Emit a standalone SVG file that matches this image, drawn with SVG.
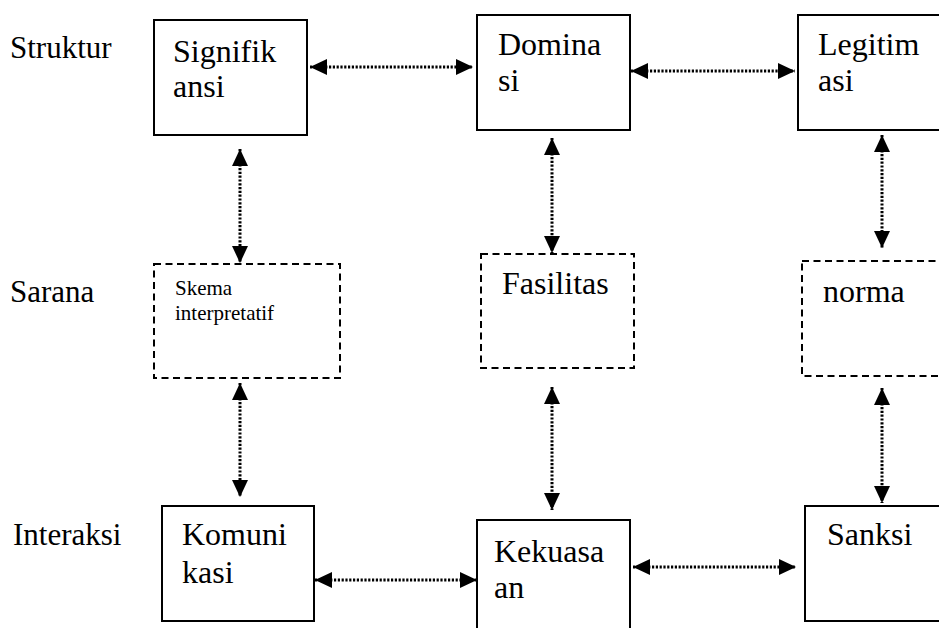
<svg xmlns="http://www.w3.org/2000/svg" width="939" height="628" viewBox="0 0 939 628">
  <style>
    text { font-family: "Liberation Serif", "DejaVu Serif", serif; fill: #000; }
    .lbl { font-size: 31px; }
    .txt { font-size: 32px; }
    .sm { font-size: 21px; }
    .solid { fill: #fff; stroke: #000; stroke-width: 2; }
    .dash { fill: #fff; stroke: #000; stroke-width: 2; stroke-dasharray: 7 4.5; }
    .link { stroke: #000; stroke-width: 3; stroke-dasharray: 2.2 1.6; fill: none;
            marker-start: url(#head); marker-end: url(#head); }
  </style>
  <defs>
    <marker id="head" markerUnits="userSpaceOnUse" markerWidth="17" markerHeight="16"
            refX="17" refY="8" orient="auto-start-reverse" viewBox="0 0 17 16">
      <path d="M0,0 L17,8 L0,16 z" fill="#000"/>
    </marker>
  </defs>
  <rect width="939" height="628" fill="#fff"/>

  <!-- row labels -->
  <g id="row-labels">
    <text class="lbl" x="10" y="58" font-family="Liberation Serif, serif">Struktur</text>
    <text class="lbl" x="10" y="302" font-family="Liberation Serif, serif">Sarana</text>
    <text class="lbl" x="13" y="545" font-family="Liberation Serif, serif">Interaksi</text>
  </g>

  <!-- connectors -->
  <g id="connectors">
    <line class="link" x1="310" y1="67" x2="473" y2="67"/>
    <line class="link" x1="631" y1="71" x2="795" y2="71"/>
    <line class="link" x1="240" y1="149" x2="240" y2="263"/>
    <line class="link" x1="552" y1="138" x2="552" y2="253"/>
    <line class="link" x1="882" y1="135" x2="882" y2="248"/>
    <line class="link" x1="240" y1="383" x2="240" y2="497"/>
    <line class="link" x1="552" y1="387" x2="552" y2="510"/>
    <line class="link" x1="882" y1="388" x2="882" y2="503"/>
    <line class="link" x1="315" y1="580" x2="477" y2="580"/>
    <line class="link" x1="633" y1="567" x2="796" y2="567"/>
  </g>

  <!-- structure row -->
  <g id="signifikansi">
    <rect class="solid" x="154" y="20" width="153" height="115"/>
    <text class="txt" x="173" y="62">Signifik</text>
    <text class="txt" x="173" y="97">ansi</text>
  </g>
  <g id="dominasi">
    <rect class="solid" x="477" y="15" width="153" height="115"/>
    <text class="txt" x="498" y="55">Domina</text>
    <text class="txt" x="498" y="91">si</text>
  </g>
  <g id="legitimasi">
    <rect class="solid" x="798" y="15" width="160" height="115"/>
    <text class="txt" x="818" y="55">Legitim</text>
    <text class="txt" x="818" y="91">asi</text>
  </g>

  <!-- means row -->
  <g id="skema-interpretatif">
    <rect class="dash" x="154" y="264" width="186" height="114"/>
    <text class="sm" x="175" y="295">Skema</text>
    <text class="sm" x="175" y="320">interpretatif</text>
  </g>
  <g id="fasilitas">
    <rect class="dash" x="481" y="254" width="153" height="114"/>
    <text class="txt" x="502" y="294">Fasilitas</text>
  </g>
  <g id="norma">
    <rect class="dash" x="802" y="261" width="160" height="115"/>
    <text class="txt" x="823" y="302">norma</text>
  </g>

  <!-- interaction row -->
  <g id="komunikasi">
    <rect class="solid" x="162" y="506" width="152" height="115"/>
    <text class="txt" x="182" y="545">Komuni</text>
    <text class="txt" x="182" y="583">kasi</text>
  </g>
  <g id="kekuasaan">
    <rect class="solid" x="477" y="520" width="153" height="120"/>
    <text class="txt" x="494" y="562">Kekuasa</text>
    <text class="txt" x="494" y="598">an</text>
  </g>
  <g id="sanksi">
    <rect class="solid" x="805" y="506" width="160" height="115"/>
    <text class="txt" x="827" y="545">Sanksi</text>
  </g>
</svg>
